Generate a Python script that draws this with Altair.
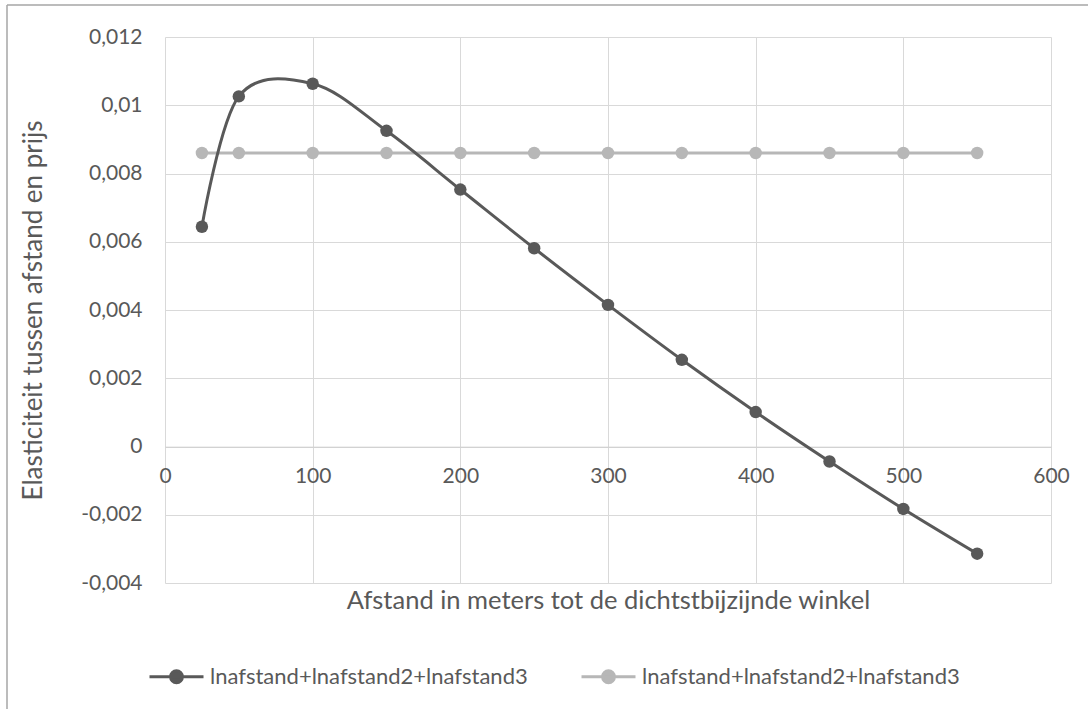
import altair as alt
import pandas as pd

# ---- data ----
afstand = [25, 50, 100, 150, 200, 250, 300, 350, 400, 450, 500, 550]
elast_model = [0.00644, 0.01026, 0.01063, 0.00925, 0.00753, 0.00581,
               0.00415, 0.00254, 0.00101, -0.00044, -0.00183, -0.00314]
elast_const = [0.0086, 0.0086, 0.0086, 0.0086, 0.0086, 0.0086,
               0.0086, 0.0086, 0.0086, 0.0086, 0.0086, 0.0086]
series_keys = ["s1", "s2"]
series_label = "lnafstand+lnafstand2+lnafstand3"
x_ticks = [0, 100, 200, 300, 400, 500, 600]
y_ticks = [-0.004, -0.002, 0, 0.002, 0.004, 0.006, 0.008, 0.01, 0.012]
x_title = "Afstand in meters tot de dichtstbijzijnde winkel"
y_title = "Elasticiteit tussen afstand en prijs"

rows = []
for x, y in zip(afstand, elast_model):
    rows.append({"afstand": x, "elast": y, "serie": series_keys[0]})
for x, y in zip(afstand, elast_const):
    rows.append({"afstand": x, "elast": y, "serie": series_keys[1]})
df = pd.DataFrame(rows)

FONT = "Lato"
TXT = "#595959"
GRID = "#d9d9d9"
COLORS = ["#595959", "#b7b7b7"]

W, H = 886, 546
PAD_L, PAD_T = 165, 37

color = alt.Color(
    "serie:N",
    scale=alt.Scale(domain=series_keys, range=COLORS),
    legend=alt.Legend(
        title=None,
        orient="none",
        legendX=148 - PAD_L,
        legendY=675 - 27 - PAD_T,
        direction="horizontal",
        columnPadding=47,
        symbolType="M-1,0H1M-0.22,0A0.22,0.22,0,1,0,0.22,0A0.22,0.22,0,1,0,-0.22,0Z",
        symbolSize=2916,
        symbolStrokeWidth=3,
        labelExpr=f"'{series_label}'",
        labelFont=FONT,
        labelFontSize=22,
        labelColor=TXT,
        labelOffset=5,
        labelLimit=500,
    ),
)

x_enc = alt.X(
    "afstand:Q",
    scale=alt.Scale(domain=[0, 600], nice=False, zero=False),
    axis=alt.Axis(
        values=x_ticks,
        title=x_title,
        offset=-(583 - 446.7),
        grid=True,
        gridColor=GRID,
        domainColor="#cfcfcf",
        ticks=False,
        labelPadding=19,
        labelFont=FONT,
        labelFontSize=21,
        labelColor=TXT,
        labelFlush=False,
        format="d",
        titleFont=FONT,
        titleFontSize=25.5,
        titleFontWeight="normal",
        titleColor=TXT,
        titleY=142,
        titleBaseline="top",
    ),
)

y_enc = alt.Y(
    "elast:Q",
    scale=alt.Scale(domain=[-0.004, 0.012], nice=False, zero=False),
    axis=alt.Axis(
        values=y_ticks,
        title=y_title,
        grid=True,
        gridColor=GRID,
        domain=False,
        ticks=False,
        labelPadding=23,
        labelFont=FONT,
        labelFontSize=21,
        labelColor=TXT,
        labelExpr="replace(replace(format(datum.value, '.3~f'), '.', ','), '\u2212', '-')",
        titleFont=FONT,
        titleFontSize=26,
        titleFontWeight="normal",
        titleColor=TXT,
        titleX=33 - PAD_L,
        titleY=H / 2,
        titleBaseline="middle",
        titleAngle=270,
    ),
)

base = alt.Chart(df)

light_line = base.transform_filter(alt.datum.serie == series_keys[1]).mark_line(
    strokeWidth=3
).encode(x=x_enc, y=y_enc, color=color)
light_pts = base.transform_filter(alt.datum.serie == series_keys[1]).mark_point(
    filled=True, size=155, opacity=1
).encode(x="afstand:Q", y="elast:Q", color=color)

dark_line = base.transform_filter(alt.datum.serie == series_keys[0]).mark_line(
    strokeWidth=3, interpolate="cardinal", tension=0
).encode(x="afstand:Q", y="elast:Q", color=color)
dark_pts = base.transform_filter(alt.datum.serie == series_keys[0]).mark_point(
    filled=True, size=155, opacity=1
).encode(x="afstand:Q", y="elast:Q", color=color)

frame_df = pd.DataFrame({"k": [0]})
frame_left = alt.Chart(frame_df).mark_rule(color="#a6a6a6", strokeWidth=1.5).encode(
    x=alt.value(7 - PAD_L), y=alt.value(5 - PAD_T), y2=alt.value(709 - PAD_T)
)
frame_top = alt.Chart(frame_df).mark_rule(color="#a6a6a6", strokeWidth=1.5).encode(
    x=alt.value(7 - PAD_L), x2=alt.value(1088 - PAD_L), y=alt.value(5 - PAD_T)
)

chart = alt.layer(
    light_line, light_pts, dark_line, dark_pts, frame_left, frame_top
).properties(
    width=W,
    height=H,
    autosize=alt.AutoSizeParams(type="none"),
    padding={"left": PAD_L, "top": PAD_T, "right": 1088 - PAD_L - W, "bottom": 709 - PAD_T - H},
    background="white",
).configure_view(stroke="transparent")

chart.save("out.html", embed_options={"renderer": "svg", "actions": False})
